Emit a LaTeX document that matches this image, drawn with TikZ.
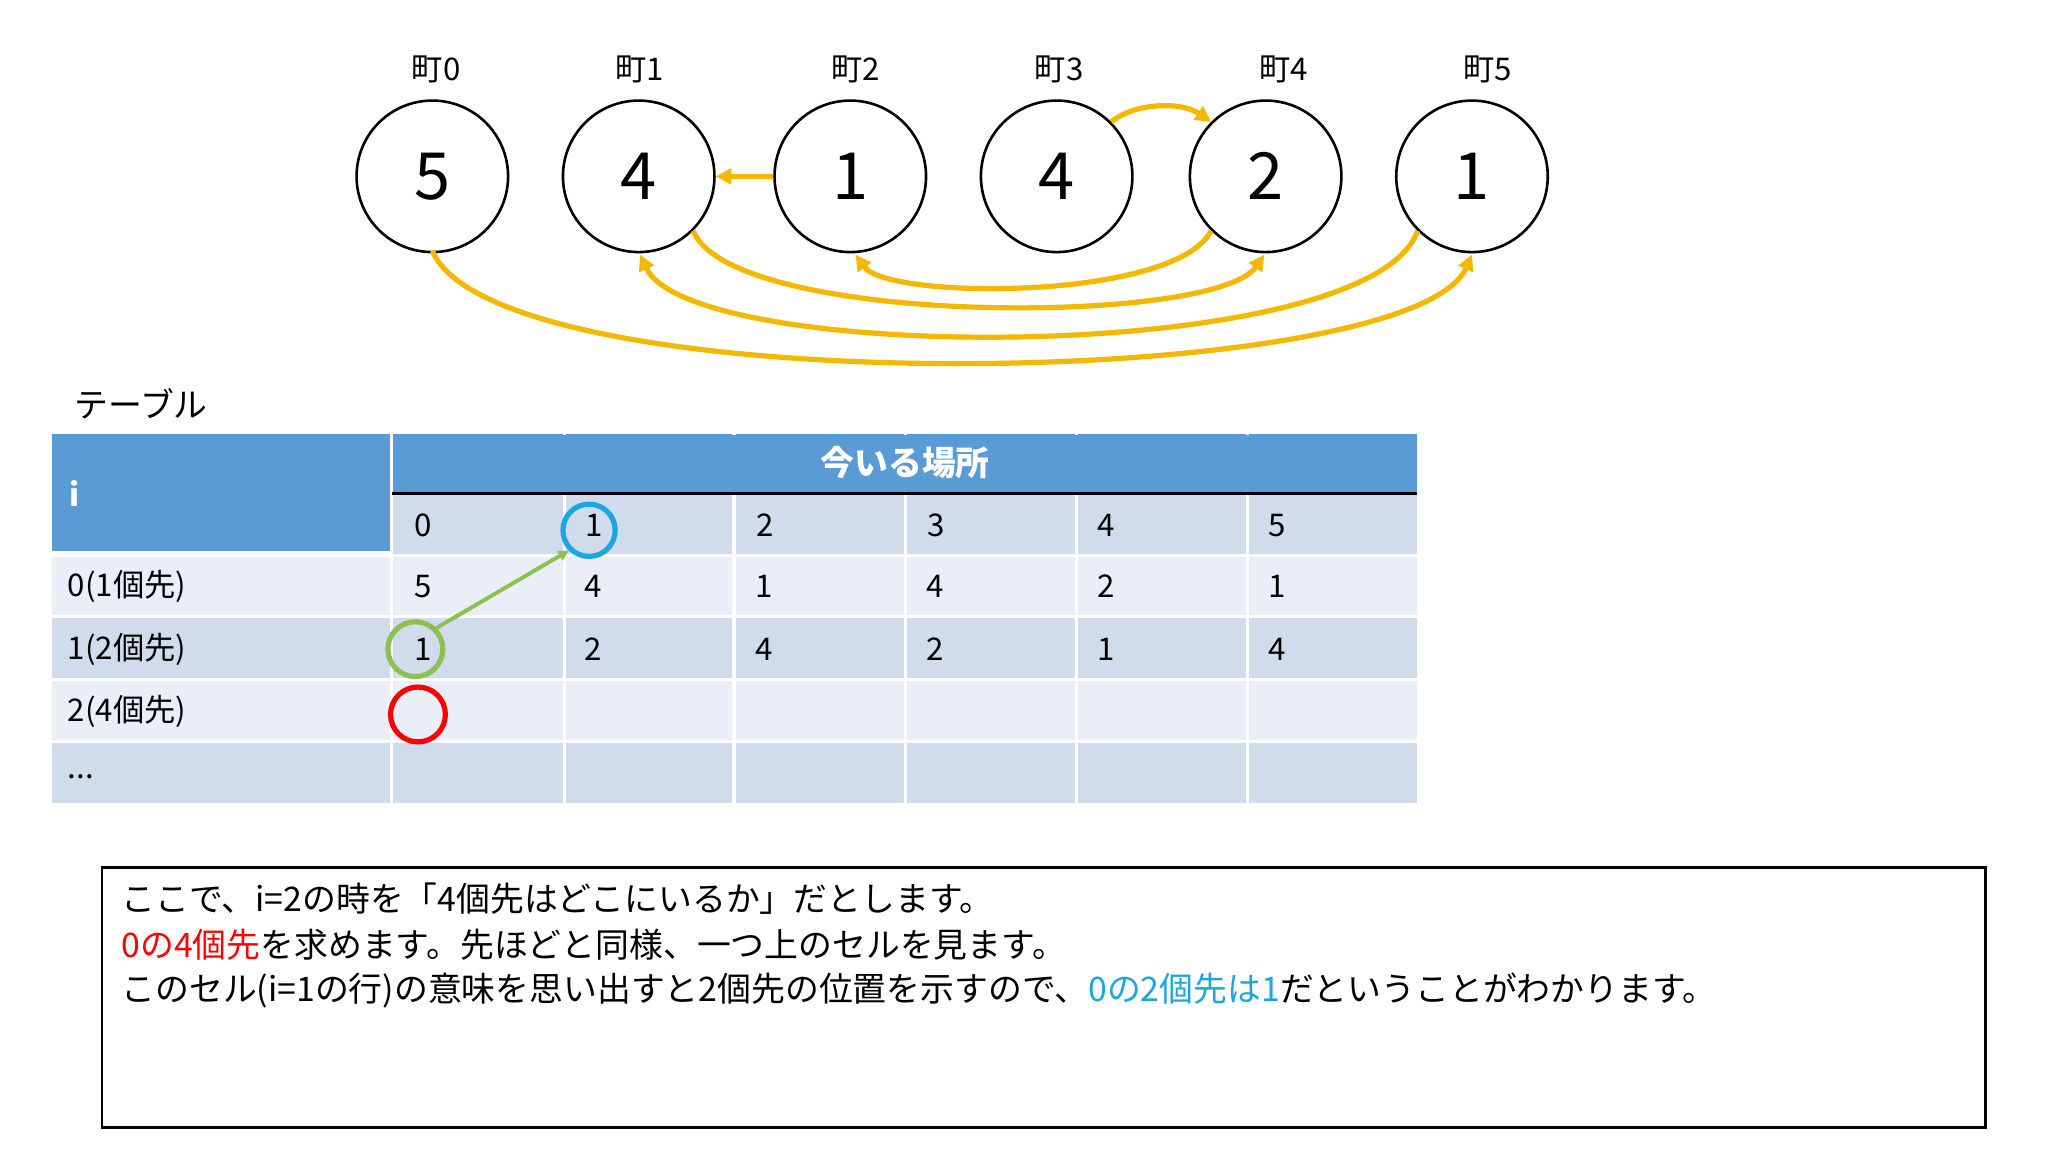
\documentclass[tikz,border=0pt]{standalone}
\usepackage{fontspec}
\setmainfont{Noto Sans CJK JP}
\usetikzlibrary{arrows.meta}
\definecolor{org}{HTML}{F5B800}
\definecolor{hdr}{HTML}{5B9BD5}
\definecolor{rowA}{HTML}{D0DCEC}
\definecolor{rowB}{HTML}{E9EEF7}
\definecolor{cy}{HTML}{1BA6E0}
\definecolor{gr}{HTML}{8CC152}
\begin{document}
\begin{tikzpicture}[x=0.5bp,y=-0.5bp,
  town/.style={circle,draw,line width=1pt,minimum size=58bp,inner sep=0pt,font=\fontsize{25}{25}\selectfont},
  tl/.style={font=\fontsize{12}{14}\selectfont},
  oarr/.style={org,line width=2pt,-{Triangle[length=6bp,width=6bp]}},
  cell/.style={anchor=west,font=\fontsize{12}{14}\selectfont},
  txt/.style={anchor=west,font=\fontsize{13}{16}\selectfont}]
\useasboundingbox[fill=white] (0,0) rectangle (1568,882);
% towns
\foreach \i/\x/\v/\lx in {0/331/5/334,1/489/4/490,2/651/1/655,3/809/4/811,4/969/2/983,5/1127/1/1139}{
  \node[town] (t\i) at (\x,135) {\v};
  \node[tl] (l\i) at (\lx,53) {町\i};
}
\draw[oarr] (t2.west) -- (t1.east);
\draw[oarr] (t3.north east) .. controls (870,78) and (905,78) .. (t4.north west);
\draw[oarr] (t4.south west) .. controls (900,230) and (680,230) .. (655,195);
\draw[oarr] (t1.south east) .. controls (560,250) and (930,250) .. (968,195);
\draw[oarr] (t5.south west) .. controls (1050,280) and (530,280) .. (490,195);
\draw[oarr] (331,192) .. controls (380,310) and (1080,300) .. (1127,195);
% table
\node[anchor=west,font=\fontsize{13}{16}\selectfont] (ttl) at (50,309) {テーブル};
\fill[hdr] (40,332) rectangle (1085,378);
\fill[hdr] (40,378) rectangle (300,422);
\fill[rowA] (300,378) rectangle (1085,425);
\foreach \y/\c in {425/rowB,472/rowA,520/rowB,568/rowA}{\fill[\c] (40,\y) rectangle (1085,\y+47);}
\foreach \x in {300,432,562,693,824,955}{\draw[white,line width=1.2pt] (\x,332) -- (\x,615);}
\foreach \y in {425,472,520,568}{\draw[white,line width=1.2pt] (40,\y) -- (1085,\y);}
\fill[hdr] (302,333) rectangle (1085,377);
\draw[black,line width=1pt] (300,378) -- (1085,378);
\node[font=\bfseries\fontsize{13}{16}\selectfont,text=white] (h) at (693,354) {今いる場所};
\node[cell,text=white,font=\bfseries\fontsize{12}{14}\selectfont] (hi) at (46,378) {i};
\foreach \j/\x in {0/310,1/441,2/572,3/703,4/833,5/964}{\node[cell] (c\j) at (\x,402) {\j};}
\foreach \v [count=\j from 0] in {5,4,1,4,2,1}{\pgfmathsetmacro\xx{310+130.8*\j}\node[cell] (r0\j) at (\xx,449) {\v};}
\foreach \v [count=\j from 0] in {1,2,4,2,1,4}{\pgfmathsetmacro\xx{310+130.8*\j}\node[cell] (r1\j) at (\xx,497) {\v};}
\node[cell] (a0) at (45,449) {0(1個先)};
\node[cell] (a1) at (45,497) {1(2個先)};
\node[cell] (a2) at (45,545) {2(4個先)};
\node[cell] (a3) at (45,595) {...};
\node[circle,draw=cy,line width=2pt,minimum size=20bp,inner sep=0pt] (bc) at (451,406) {};
\node[circle,draw=gr,line width=2pt,minimum size=21bp,inner sep=0pt] (gc) at (318,497) {};
\node[circle,draw=red,line width=2pt,minimum size=21bp,inner sep=0pt] (rc) at (320,547) {};
\draw[gr,line width=1.5pt,-{Triangle[length=4bp,width=4bp]}] (gc.north east) -- (bc.south west);
% text box
\draw[line width=1pt] (78,664) rectangle (1520,863);
\node[txt] (p1) at (86,688) {ここで、i=2の時を「4個先はどこにいるか」だとします。};
\node[txt] (p2) at (86,723) {\textcolor{red}{0の4個先}を求めます。先ほどと同様、一つ上のセルを見ます。};
\node[txt] (p3) at (86,758) {このセル(i=1の行)の意味を思い出すと2個先の位置を示すので、\textcolor{cy}{0の2個先は1}だということがわかります。};
\end{tikzpicture}
\end{document}
